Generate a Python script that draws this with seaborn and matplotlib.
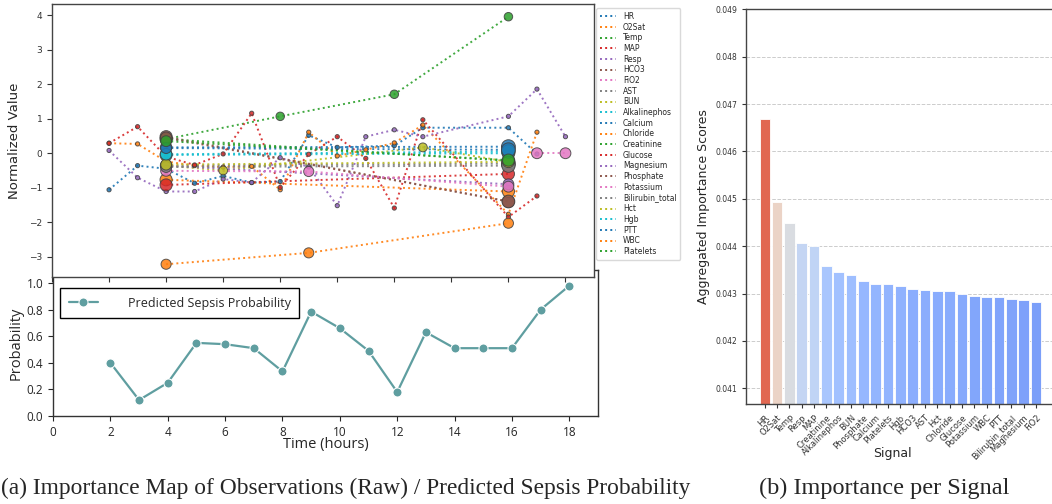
import numpy as np
import pandas as pd
import matplotlib
matplotlib.use("Agg")
import matplotlib.pyplot as plt
from matplotlib.lines import Line2D
from matplotlib.ticker import FormatStrFormatter
import seaborn as sns

sns.set_style("white")
plt.rcParams["font.family"] = ["DejaVu Sans"]

# ---------------- data: importance map (raw observations) ----------------
signals = ["HR", "O2Sat", "Temp", "MAP", "Resp", "HCO3", "FiO2", "AST", "BUN",
           "Alkalinephos", "Calcium", "Chloride", "Creatinine", "Glucose",
           "Magnesium", "Phosphate", "Potassium", "Bilirubin_total", "Hct",
           "Hgb", "PTT", "WBC", "Platelets"]

hr_t = [2, 3, 4, 5, 6, 7, 8, 9, 10, 12, 13, 16, 17]
hr_v = [-1.06, -0.36, -0.45, -0.87, -0.66, -0.85, -0.82, 0.52, 0.17, 0.22, 0.74, 0.74, -0.02]
o2sat_t = [2, 3, 4, 5, 6, 7, 8, 9, 10, 11, 12, 13, 16, 17]
o2sat_v = [0.29, 0.27, -0.24, -0.36, -0.40, -0.38, -1.06, 0.61, -0.08, 0.10, 0.30, 0.82, -1.77, 0.61]
temp_t = [4, 8, 12, 16]
temp_v = [0.41, 1.07, 1.71, 3.96]
temp_imp = [0.40, 0.20, 0.20, 0.20]
map_t = [2, 3, 4, 5, 6, 7, 8, 9, 10, 11, 12, 13, 16, 17]
map_v = [0.29, 0.77, -0.10, -0.34, -0.02, 1.16, -0.99, -0.03, 0.48, -0.15, -1.59, 0.97, -1.85, -1.24]
resp_t = [2, 3, 4, 5, 6, 7, 8, 9, 10, 11, 12, 13, 16, 17, 18]
resp_v = [0.08, -0.71, -1.11, -1.11, -0.75, -0.85, -0.13, -0.40, -1.52, 0.48, 0.68, 0.48, 1.07, 1.86, 0.48]
hco3_t, hco3_v, hco3_imp = [4, 16], [0.48, -1.40], [0.45, 0.45]
fio2_t, fio2_v, fio2_imp = [17, 18], [0.00, 0.00], [0.35, 0.35]
ast_t, ast_v, ast_imp = [4, 16], [-0.36, -0.30], [0.40, 0.60]
bun_t, bun_v, bun_imp = [4, 6, 13, 16], [-0.36, -0.50, 0.17, -0.25], [0.35, 0.22, 0.22, 0.40]
alk_t, alk_v, alk_imp = [4, 16], [-0.05, 0.00], [0.45, 0.50]
calcium_t, calcium_v, calcium_imp = [4, 16], [0.17, 0.19], [0.40, 0.60]
chloride_t, chloride_v, chloride_imp = [4, 16], [-0.77, -1.11], [0.45, 0.45]
creat_t, creat_v, creat_imp = [4, 16], [0.41, -0.22], [0.45, 0.50]
glucose_t, glucose_v, glucose_imp = [4, 16], [-0.92, -0.60], [0.45, 0.45]
magnes_t, magnes_v, magnes_imp = [4, 16], [-0.36, -0.90], [0.35, 0.35]
phos_t, phos_v, phos_imp = [4, 16], [0.45, -1.40], [0.40, 0.50]
potas_t, potas_v, potas_imp = [4, 9, 16], [-0.51, -0.53, -0.97], [0.35, 0.30, 0.35]
bili_t, bili_v, bili_imp = [4, 16], [-0.40, -0.36], [0.35, 0.55]
hct_t, hct_v, hct_imp = [4, 16], [-0.33, -0.25], [0.35, 0.40]
hgb_t, hgb_v, hgb_imp = [4, 16], [-0.03, 0.05], [0.40, 0.55]
ptt_t, ptt_v, ptt_imp = [4, 16], [0.15, 0.10], [0.35, 0.60]
wbc_t, wbc_v, wbc_imp = [4, 9, 16], [-3.22, -2.89, -2.03], [0.30, 0.30, 0.30]
plt_t, plt_v, plt_imp = [4, 16], [0.35, -0.20], [0.35, 0.45]
vital_imp = 0.02

# ---------------- data: predicted probability ----------------
prob_times = [2, 3, 4, 5, 6, 7, 8, 9, 10, 11, 12, 13, 14, 15, 16, 17, 18]
prob_values = [0.40, 0.12, 0.25, 0.55, 0.54, 0.51, 0.335, 0.785, 0.66, 0.49,
               0.18, 0.63, 0.51, 0.51, 0.51, 0.80, 0.98]

# ---------------- data: importance per signal ----------------
bar_signals = ["HR", "O2Sat", "Temp", "Resp", "MAP", "Creatinine", "Alkalinephos",
               "BUN", "Phosphate", "Calcium", "Platelets", "Hgb", "HCO3", "AST",
               "Hct", "Chloride", "Glucose", "Potassium", "WBC", "PTT",
               "Bilirubin_total", "Magnesium", "FiO2"]
bar_scores = [0.04669, 0.04493, 0.04449, 0.04406, 0.04400, 0.04358, 0.04346,
              0.04340, 0.04326, 0.04321, 0.04320, 0.04317, 0.04309, 0.04308,
              0.04306, 0.04305, 0.04300, 0.04295, 0.04293, 0.04292, 0.04289,
              0.04287, 0.04282]

# ---------------- build long table ----------------
series = {
    "HR": (hr_t, hr_v, None), "O2Sat": (o2sat_t, o2sat_v, None),
    "Temp": (temp_t, temp_v, temp_imp), "MAP": (map_t, map_v, None),
    "Resp": (resp_t, resp_v, None), "HCO3": (hco3_t, hco3_v, hco3_imp),
    "FiO2": (fio2_t, fio2_v, fio2_imp), "AST": (ast_t, ast_v, ast_imp),
    "BUN": (bun_t, bun_v, bun_imp), "Alkalinephos": (alk_t, alk_v, alk_imp),
    "Calcium": (calcium_t, calcium_v, calcium_imp),
    "Chloride": (chloride_t, chloride_v, chloride_imp),
    "Creatinine": (creat_t, creat_v, creat_imp),
    "Glucose": (glucose_t, glucose_v, glucose_imp),
    "Magnesium": (magnes_t, magnes_v, magnes_imp),
    "Phosphate": (phos_t, phos_v, phos_imp),
    "Potassium": (potas_t, potas_v, potas_imp),
    "Bilirubin_total": (bili_t, bili_v, bili_imp),
    "Hct": (hct_t, hct_v, hct_imp), "Hgb": (hgb_t, hgb_v, hgb_imp),
    "PTT": (ptt_t, ptt_v, ptt_imp), "WBC": (wbc_t, wbc_v, wbc_imp),
    "Platelets": (plt_t, plt_v, plt_imp),
}
rows = []
for name in signals:
    t, v, imp = series[name]
    if imp is None:
        imp = [vital_imp] * len(t)
    for a, b, c in zip(t, v, imp):
        rows.append({"signal": name, "time": a, "value": b, "imp": c})
df = pd.DataFrame(rows)

pal = sns.color_palette("tab10", len(signals))

# ---------------- figure ----------------
W, H = 1052, 504
fig = plt.figure(figsize=(W / 100, H / 100), dpi=100)


def rect(l, t, r, b):
    return [l / W, 1 - b / H, (r - l) / W, (b - t) / H]


ax_p = fig.add_axes(rect(53, 270, 598, 416))
ax_m = fig.add_axes(rect(52, 4.3, 594, 277))
ax_m.set_zorder(3)
ax_m.set_facecolor("white")
ax_b = fig.add_axes(rect(746, 9.3, 1052, 404))

# ---- top: importance map ----
sns.lineplot(data=df, x="time", y="value", hue="signal", hue_order=signals,
             palette=pal, linestyle=":", linewidth=1.4, alpha=0.9,
             estimator=None, sort=True, legend=False, ax=ax_m)
sns.scatterplot(data=df, x="time", y="value", hue="signal", hue_order=signals,
                palette=pal, size="imp", sizes=(6, 100), size_norm=(0, 0.6),
                edgecolor="0.25", linewidth=0.7, alpha=0.85, legend=False,
                ax=ax_m, zorder=3)
ax_m.set_xlim(0, 19)
ax_m.set_ylim(-3.59, 4.32)
ax_m.set_xticks(range(0, 19, 2))
ax_m.set_xticklabels([])
ax_m.set_yticks(range(-3, 5))
ax_m.tick_params(axis="both", direction="out", length=3.5, width=0.8,
                 labelsize=6.5, colors="#333333", left=True, bottom=True)
ax_m.set_xlabel("")
ax_m.set_ylabel("Normalized Value", fontsize=9.5, labelpad=6)
for s in ax_m.spines.values():
    s.set_color("#444444")
    s.set_linewidth(1.0)
handles = [Line2D([], [], color=pal[i], linestyle=":", linewidth=1.4)
           for i in range(len(signals))]
ax_m.legend(handles, signals, loc="upper left", bbox_to_anchor=(1.004, 0.986),
            borderaxespad=0, fontsize=5.5, labelspacing=0.22, handlelength=2.1,
            handletextpad=0.9, borderpad=0.5, frameon=True, fancybox=True,
            edgecolor="0.85", framealpha=1)

# ---- bottom: probability ----
sns.lineplot(x=prob_times, y=prob_values, marker="o", markersize=6.5,
             color="#5f9ea0", linewidth=1.6, ax=ax_p,
             label="Predicted Sepsis Probability")
ax_p.set_xlim(0, 19)
ax_p.set_ylim(0, 1.098)
ax_p.set_xticks(range(0, 19, 2))
ax_p.set_yticks(np.arange(0, 1.01, 0.2))
ax_p.yaxis.set_major_formatter(FormatStrFormatter("%.1f"))
ax_p.tick_params(axis="both", direction="out", length=3.5, width=0.8,
                 labelsize=8.5, left=True, bottom=True)
for lab in ax_p.get_xticklabels() + ax_p.get_yticklabels():
    lab.set_family("Open Sans")
ax_p.set_xlabel("Time (hours)", fontsize=10.5, family="Open Sans", labelpad=-1)
ax_p.set_ylabel("Probability", fontsize=10.5, family="Open Sans", labelpad=2)
for s in ax_p.spines.values():
    s.set_color("#333333")
    s.set_linewidth(1.0)
ax_p.legend(loc="upper left", bbox_to_anchor=(0.013, 0.877), borderaxespad=0,
            prop={"family": "Open Sans", "size": 9}, fancybox=False,
            edgecolor="black", framealpha=1, handlelength=2.3,
            handletextpad=2.4, borderpad=0.7)

# ---- right: importance per signal ----
sc = np.array(bar_scores)
cpos = 0.2 + 0.66 * (sc - sc.min()) / (sc.max() - sc.min())
cmap = plt.get_cmap("coolwarm")
bar_colors = [cmap(c) for c in cpos]
sns.barplot(x=bar_signals, y=bar_scores, hue=bar_signals, palette=bar_colors,
            saturation=1, legend=False, width=0.85, edgecolor="white",
            linewidth=0.6, ax=ax_b)
ax_b.set_ylim(0.04067, 0.049)
ax_b.set_xlim(-1.52, 23.3)
ax_b.set_yticks(np.arange(0.041, 0.04901, 0.001))
ax_b.yaxis.set_major_formatter(FormatStrFormatter("%.3f"))
ax_b.yaxis.grid(True, linestyle="--", color="#cccccc", linewidth=0.7)
ax_b.set_axisbelow(True)
ax_b.tick_params(axis="both", direction="out", length=3, width=0.8,
                 labelsize=5.5, left=True, bottom=True, colors="#333333")
ax_b.tick_params(axis="x", labelsize=6)
plt.setp(ax_b.get_xticklabels(), rotation=45, ha="right",
         rotation_mode="anchor")
ax_b.set_xlabel("Signal", fontsize=9)
ax_b.xaxis.set_label_coords(0.48, -0.109)
ax_b.set_ylabel("Aggregated Importance Scores", fontsize=9, labelpad=4)
for k, s in ax_b.spines.items():
    s.set_color("#444444")
    s.set_linewidth(1.0)
ax_b.spines["right"].set_visible(False)

# ---- captions ----
fig.text(346 / W, 1 - 488 / H,
         "(a) Importance Map of Observations (Raw) / Predicted Sepsis Probability",
         ha="center", va="center", family="Liberation Serif", fontsize=16.8)
fig.text(884 / W, 1 - 488 / H, "(b) Importance per Signal",
         ha="center", va="center", family="Liberation Serif", fontsize=17.5)

fig.savefig("out.png", dpi=100)
